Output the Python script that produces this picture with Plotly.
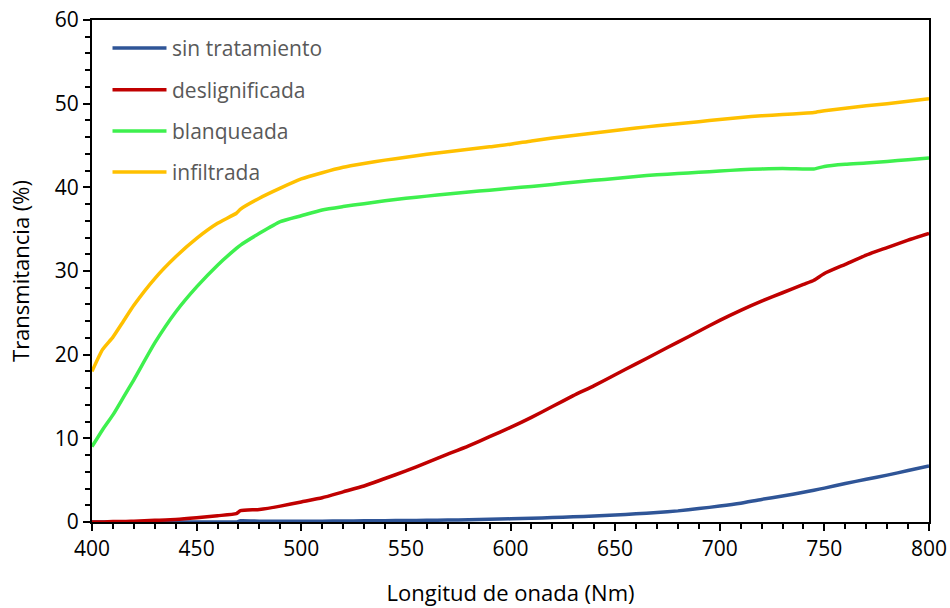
import plotly.graph_objects as go

# Wavelength grid (nm)
wavelength = [400, 405, 410, 415, 420, 430, 440, 450, 460, 469, 471, 480, 490, 500,
              510, 520, 530, 540, 550, 560, 570, 580, 590, 600, 610, 620, 630, 640,
              650, 660, 670, 680, 690, 700, 710, 720, 730, 740, 745, 750, 760, 770,
              780, 790, 800]

# Transmittance (%) for each treatment
sin_tratamiento = [0.0, 0.0, 0.0, 0.0, 0.0, 0.0, 0.0, 0.0, 0.0, 0.0, 0.15, 0.1, 0.08, 0.08,
                   0.1, 0.12, 0.14, 0.16, 0.18, 0.2, 0.23, 0.27, 0.32, 0.38, 0.45, 0.53, 0.62, 0.72,
                   0.84, 0.98, 1.14, 1.33, 1.6, 1.9, 2.25, 2.7, 3.1, 3.55, 3.8, 4.05, 4.6, 5.1,
                   5.6, 6.15, 6.7]
deslignificada = [0.0, 0.0, 0.05, 0.05, 0.1, 0.2, 0.3, 0.5, 0.75, 1.0, 1.35, 1.5, 1.9, 2.4,
                  2.9, 3.6, 4.3, 5.2, 6.1, 7.1, 8.1, 9.1, 10.2, 11.3, 12.5, 13.8, 15.1, 16.3,
                  17.6, 18.9, 20.2, 21.5, 22.8, 24.1, 25.3, 26.4, 27.4, 28.4, 28.9, 29.7, 30.8, 31.9,
                  32.8, 33.7, 34.5]
blanqueada = [9.0, 11.0, 12.8, 14.9, 17.0, 21.4, 25.1, 28.1, 30.7, 32.7, 33.1, 34.5, 35.9, 36.6,
              37.3, 37.7, 38.05, 38.4, 38.7, 38.95, 39.2, 39.45, 39.65, 39.9, 40.1, 40.35, 40.6, 40.85,
              41.05, 41.3, 41.5, 41.65, 41.8, 41.95, 42.1, 42.2, 42.25, 42.2, 42.2, 42.5, 42.75, 42.9,
              43.1, 43.3, 43.5]
infiltrada = [18.0, 20.6, 22.1, 24.0, 25.9, 29.1, 31.7, 33.9, 35.7, 36.9, 37.4, 38.7, 39.9, 41.0,
              41.75, 42.4, 42.85, 43.25, 43.6, 43.95, 44.25, 44.55, 44.85, 45.15, 45.55, 45.9, 46.2, 46.5,
              46.8, 47.1, 47.35, 47.6, 47.85, 48.1, 48.35, 48.55, 48.7, 48.85, 48.95, 49.15, 49.45, 49.75,
              50.0, 50.3, 50.6]

series_names = ["sin tratamiento", "deslignificada", "blanqueada", "infiltrada"]
series_values = [sin_tratamiento, deslignificada, blanqueada, infiltrada]
series_colors = ["#2F5597", "#C00000", "#3EF04E", "#FFC000"]

FONT = "Open Sans"

fig = go.Figure()
for name, vals, col in zip(series_names, series_values, series_colors):
    fig.add_trace(go.Scatter(x=wavelength, y=vals, mode="lines", name=name,
                             line=dict(color=col, width=3.5, shape="spline", smoothing=0.5),
                             showlegend=False))

# Hand-built legend in the upper-left corner of the plot area
legend_y = [0.944, 0.861, 0.779, 0.697]
shapes = []
annotations = []
for name, col, ly in zip(series_names, series_colors, legend_y):
    shapes.append(dict(type="line", xref="paper", yref="paper",
                       x0=0.0245, x1=0.089, y0=ly, y1=ly,
                       line=dict(color=col, width=3.5)))
    annotations.append(dict(xref="paper", yref="paper", x=0.093, y=ly,
                            text=name, showarrow=False, xanchor="left", yanchor="middle",
                            font=dict(family=FONT, size=21, color="#595959")))

fig.update_layout(
    width=950, height=608,
    margin=dict(l=92, r=21, t=20, b=86),
    paper_bgcolor="white", plot_bgcolor="white",
    font=dict(family=FONT, size=21, color="black"),
    shapes=shapes, annotations=annotations,
)
fig.update_xaxes(
    range=[400, 800], tickmode="linear", tick0=400, dtick=50,
    showgrid=False, zeroline=False, automargin=False,
    showline=True, linecolor="black", linewidth=2, mirror=True,
    ticks="outside", ticklen=7, tickwidth=1.5, tickcolor="black",
    minor=dict(dtick=10, ticks="outside", ticklen=5, tickwidth=1.5, tickcolor="black", showgrid=False),
    tickfont=dict(family=FONT, size=21, color="black"),
    title=dict(text="Longitud de onada (Nm)", font=dict(family=FONT, size=22, color="black"), standoff=24),
)
fig.update_yaxes(
    range=[0, 60], tickmode="linear", tick0=0, dtick=10,
    showgrid=False, zeroline=False, automargin=False,
    showline=True, linecolor="black", linewidth=2, mirror=True,
    ticks="outside", ticklen=7, tickwidth=1.5, tickcolor="black",
    minor=dict(dtick=2, ticks="outside", ticklen=5, tickwidth=1.5, tickcolor="black", showgrid=False),
    tickfont=dict(family=FONT, size=21, color="black"),
    title=dict(text="Transmitancia (%)", font=dict(family=FONT, size=22, color="black"), standoff=19),
)

fig.write_html("out.html")
